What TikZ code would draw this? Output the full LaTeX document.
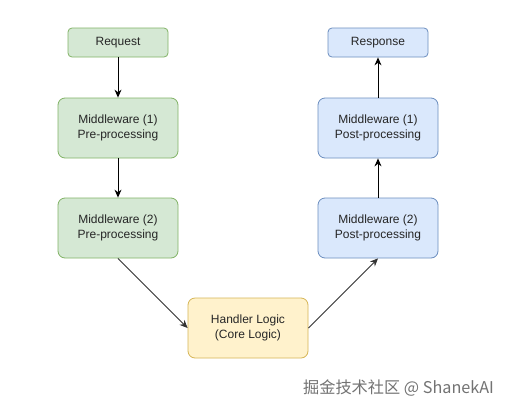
\documentclass[tikz,border=0pt]{standalone}
\usepackage{fontspec}
\setmainfont{Liberation Sans}
\newfontfamily\cjk{Noto Sans CJK SC}
\usetikzlibrary{arrows.meta}

\definecolor{preFill}{HTML}{D5E8D4}
\definecolor{preLine}{HTML}{82B366}
\definecolor{postFill}{HTML}{DAE8FC}
\definecolor{postLine}{HTML}{6C8EBF}
\definecolor{coreFill}{HTML}{FFF2CC}
\definecolor{coreLine}{HTML}{D6B656}

\tikzset{
  box/.style = {draw, rounded corners=7pt, line width=0.8pt, align=center,
    minimum width=120pt, minimum height=60pt, inner sep=0pt,
    font=\fontsize{12}{14.5}\selectfont, text=black!85},
  prebox/.style = {box, fill=preFill, draw=preLine},
  postbox/.style = {box, fill=postFill, draw=postLine},
  corebox/.style = {box, fill=coreFill, draw=coreLine},
  endbox/.style = {minimum width=100pt, minimum height=29pt, rounded corners=4pt},
  flow/.style = {-{Stealth[length=8pt,width=7pt]}, line width=0.9pt}
}

\begin{document}
\begin{tikzpicture}[x=1pt,y=-1pt]
    \useasboundingbox (0,0) rectangle (508,410);
    \fill[white] (0,0) rectangle (508,410);
    % left column: request side
    \node[prebox, endbox] (req) at (118,42.5) {Request};
    \node[prebox] (pre1) at (118,128) {Middleware (1)\\Pre-processing};
    \node[prebox] (pre2) at (118,228) {Middleware (2)\\Pre-processing};
    % bottom: handler
    \node[corebox] (core) at (248,328) {Handler Logic\\(Core Logic)};
    % right column: response side
    \node[postbox] (post2) at (378,228) {Middleware (2)\\Post-processing};
    \node[postbox] (post1) at (378,128) {Middleware (1)\\Post-processing};
    \node[postbox, endbox] (resp) at (378,42.5) {Response};
    % connectors
    \draw[flow] (req) -- (pre1);
    \draw[flow] (pre1) -- (pre2);
    \draw[flow, black!80] (pre2.south) -- (core.west);
    \draw[flow, black!80] (core.east) -- (post2.south);
    \draw[flow] (post2) -- (post1);
    \draw[flow] (post1) -- (resp);
    % watermark
    \node[text=black!55, font=\cjk\fontsize{16.2}{19}\selectfont] (mark) at (398.5,388) {掘金技术社区 @ ShanekAI};
\end{tikzpicture}
\end{document}
